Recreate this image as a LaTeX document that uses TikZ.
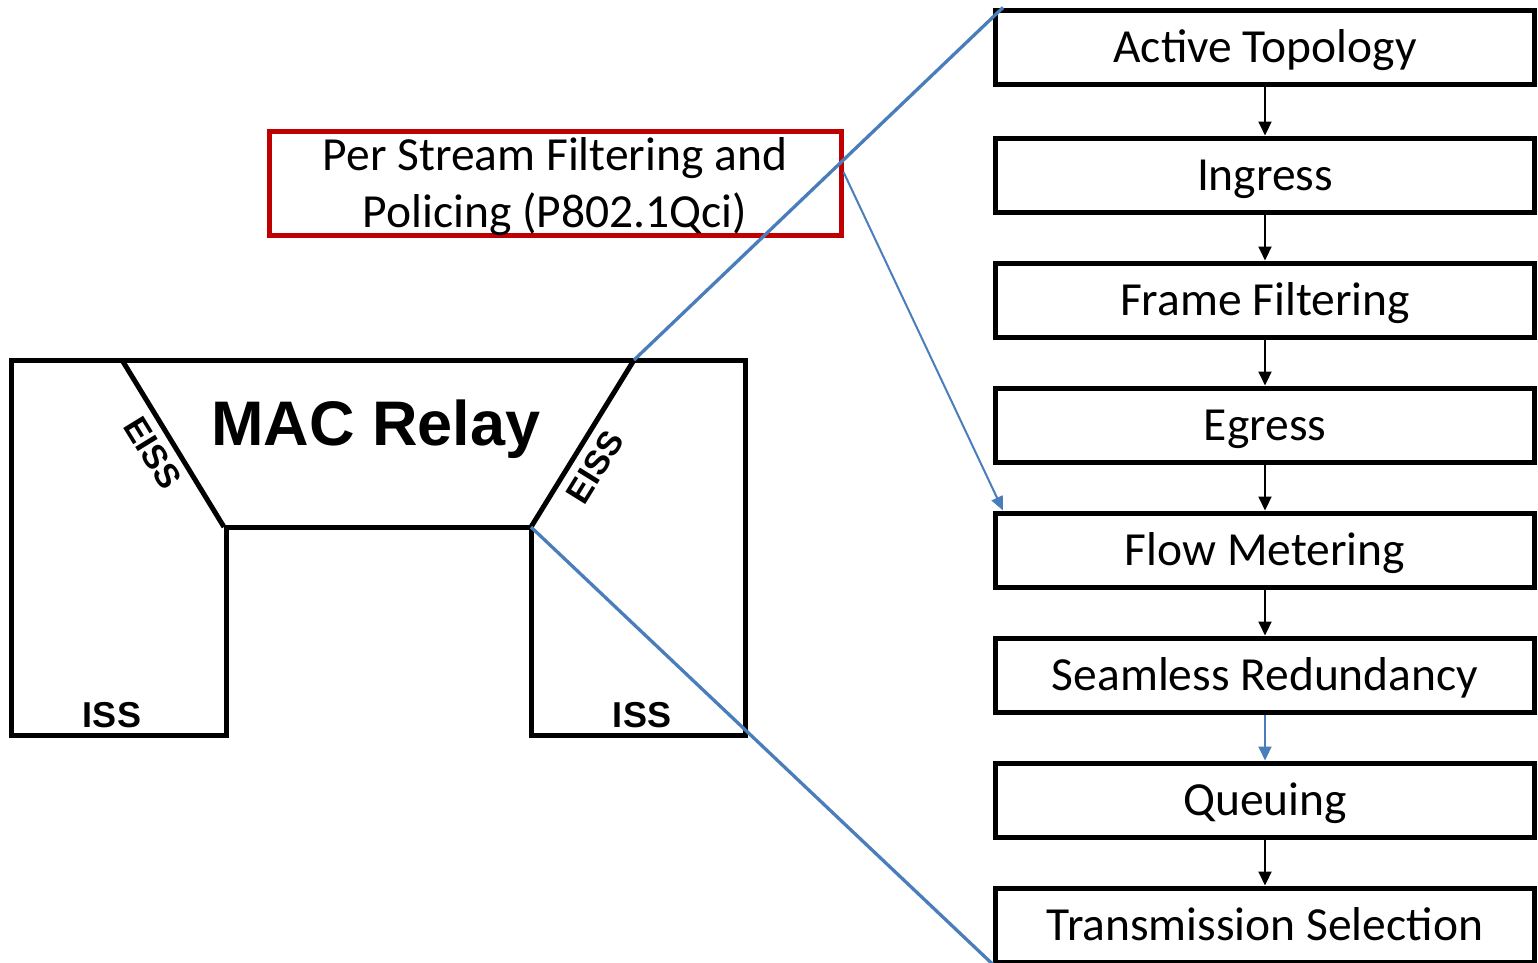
\documentclass[tikz,border=0pt]{standalone}
\usepackage{fontspec}
\setmainfont{Carlito}
\newfontfamily\relayfont{Liberation Sans}
\usetikzlibrary{arrows.meta}
\definecolor{linkblue}{HTML}{4A7EBB}
\definecolor{qcired}{HTML}{C00000}
\tikzset{
  stagebox/.style={draw=black, line width=5pt, minimum width=539pt, minimum height=74pt,
    inner sep=0pt, text height=30pt, text depth=0pt, font=\fontsize{47.5}{58}\selectfont},
  qcibox/.style={draw=qcired, line width=5pt, minimum width=572pt, minimum height=104pt,
    inner sep=0pt},
  qcilabel/.style={inner sep=0pt, align=center, font=\fontsize{47.5}{57}\selectfont},
  flow/.style={line width=2pt, -{Triangle[length=14pt,width=13pt]}},
  blueflow/.style={flow, draw=linkblue, fill=linkblue},
  zoomline/.style={draw=linkblue, line width=3.3pt},
  relay/.style={line width=5pt},
  eiss/.style={font=\relayfont\bfseries\fontsize{34}{34}\selectfont, inner sep=0pt},
  iss/.style={font=\relayfont\bfseries\fontsize{36}{36}\selectfont, inner sep=0pt, anchor=base},
}
\begin{document}
\begin{tikzpicture}[x=1pt, y=-1pt]
\useasboundingbox (0,0) rectangle (1538,962);

% bridge outline with the MAC relay trapezoid
\draw[relay] (11,360) -- (745,360) -- (745,735) -- (531,735) -- (531,527)
  -- (226,527) -- (226,735) -- (11,735) -- cycle;
\coordinate (eissLtop) at (122,360);
\coordinate (eissLbot) at (224,527);
\coordinate (eissRtop) at (634,360);
\coordinate (eissRbot) at (531,527);
\draw[relay] (eissLtop) -- (eissLbot);
\draw[relay] (eissRtop) -- (eissRbot);

\node[font=\relayfont\bfseries\fontsize{63}{63}\selectfont, inner sep=0pt, anchor=base]
  (relay) at (376,445) {MAC Relay};
\node[eiss, rotate=-58.4] (eissL) at (153,453) {EISS};
\node[eiss, rotate=58.2] (eissR) at (595,467) {EISS};
\node[iss] (issL) at (112,727) {ISS};
\node[iss] (issR) at (642,727) {ISS};

% per-stream filtering and policing
\node[qcibox] (qci) at (555,183) {};
\node[qcilabel, yshift=-4pt] (qcitext) at (qci.center) {Per Stream Filtering and\\Policing (P802.1Qci)};

% processing stages
\node[stagebox] (b1) at (1265,47)  {Active Topology};
\node[stagebox] (b2) at (1265,175) {Ingress};
\node[stagebox] (b3) at (1265,300) {Frame Filtering};
\node[stagebox] (b4) at (1265,425) {Egress};
\node[stagebox] (b5) at (1265,550) {Flow Metering};
\node[stagebox] (b6) at (1265,675) {Seamless Redundancy};
\node[stagebox] (b7) at (1265,800) {Queuing};
\node[stagebox] (b8) at (1265,925) {Transmission Selection};

\draw[flow] (b1) -- (b2);
\draw[flow] (b2) -- (b3);
\draw[flow] (b3) -- (b4);
\draw[flow] (b4) -- (b5);
\draw[flow] (b5) -- (b6);
\draw[blueflow] (b6) -- (b7);
\draw[flow] (b7) -- (b8);

% zoom lines from the relay to the stage list
\coordinate (topEnd) at ([xshift=10pt]b1.north west);
\coordinate (meterEnd) at ([xshift=10pt]b5.north west);
\coordinate (qciStart) at ([yshift=11pt]qci.east);
\draw[zoomline] (eissRtop) -- (topEnd);
\draw[zoomline] (eissRbot) -- (b8.south west);
\draw[line width=2pt, draw=linkblue, -{Triangle[length=14pt,width=12pt]}, fill=linkblue]
  (qciStart) -- (meterEnd);
\end{tikzpicture}
\end{document}
